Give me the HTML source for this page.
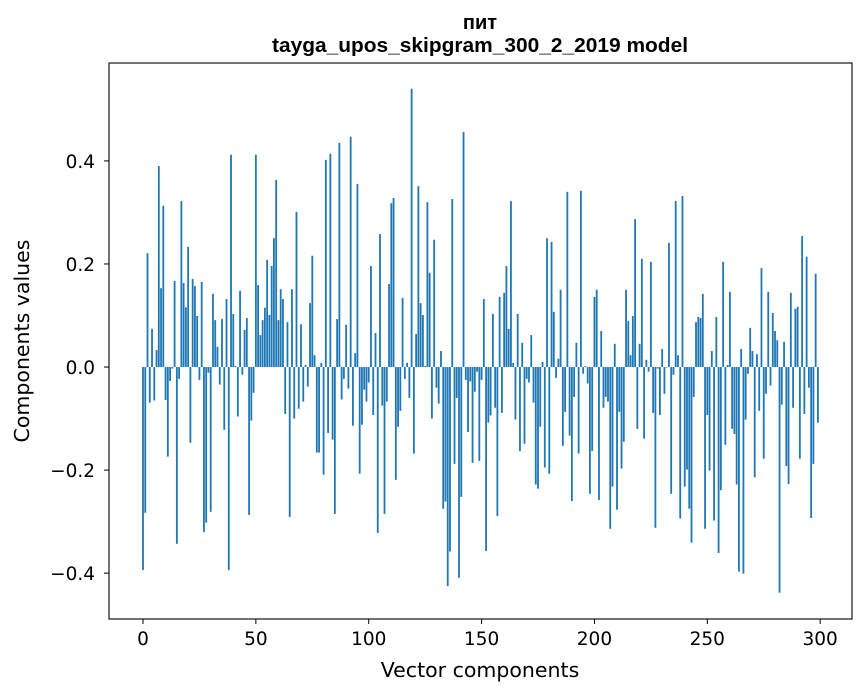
<!DOCTYPE html>
<html><head><meta charset="utf-8"><style>
body{margin:0;background:#fff;}
svg{display:block;font-family:"DejaVu Sans","Liberation Sans",sans-serif;}
</style></head><body>
<svg id="chart" width="867" height="696" viewBox="0 0 867 696" xmlns="http://www.w3.org/2000/svg">
<rect x="0" y="0" width="867" height="696" fill="#fff"/>
<text x="480" y="29" text-anchor="middle" font-size="20" font-weight="bold" font-family="'Liberation Sans',sans-serif">пит</text>
<text x="480" y="52" text-anchor="middle" font-size="20" font-weight="bold" font-family="'Liberation Sans',sans-serif" textLength="416" lengthAdjust="spacingAndGlyphs">tayga_upos_skipgram_300_2_2019 model</text>
<g id="bars"></g>
<g id="axes"></g>
<text x="480" y="677" text-anchor="middle" font-size="20.5">Vector components</text>
<text transform="translate(29,341) rotate(-90)" text-anchor="middle" font-size="20.5">Components values</text>
</svg>
<script>
const values = [
-0.394,-0.283,0.221,-0.069,0.074,-0.065,0.033,0.39,0.153,0.313,
-0.064,-0.174,-0.027,-0.003,0.167,-0.343,-0.023,0.322,0.163,0.116,
0.233,-0.147,0.171,0.157,0.099,-0.025,0.165,-0.32,-0.302,-0.011,
-0.281,0.142,0.091,0.039,-0.034,0.093,-0.122,0.132,-0.394,0.412,
0.103,0.002,-0.096,0.148,-0.015,0.072,0.095,-0.287,-0.104,-0.05,
0.412,0.159,0.062,0.091,0.115,0.208,0.101,0.196,0.25,0.363,
0.091,0.151,0.132,-0.091,0.087,-0.291,0.151,-0.1,0.301,-0.081,
0.083,-0.067,0.004,-0.038,0.124,0.216,0.023,-0.166,-0.166,0.008,
-0.209,0.402,-0.128,0.414,-0.141,-0.285,0.093,0.435,-0.063,-0.023,
0.082,-0.042,0.447,-0.114,0.027,0.355,-0.207,-0.112,-0.044,-0.067,
-0.03,0.196,-0.093,0.066,-0.322,0.258,-0.075,-0.285,-0.067,0.161,
0.318,0.328,-0.219,-0.116,-0.085,0.134,-0.023,0.008,-0.06,0.54,
-0.168,0.064,0.351,0.124,0.101,0.002,0.32,0.183,-0.1,0.247,
-0.04,-0.071,0.031,-0.275,-0.261,-0.425,-0.358,0.326,-0.188,-0.06,
-0.409,-0.252,0.456,-0.025,-0.126,-0.028,-0.186,-0.048,-0.009,-0.182,
-0.025,0.132,-0.357,-0.108,-0.094,0.103,-0.079,-0.289,0.136,-0.089,
0.144,0.196,0.074,0.322,0.008,-0.102,0.103,-0.163,0.047,-0.149,
-0.023,-0.03,0.062,-0.069,-0.228,-0.236,-0.116,0.01,-0.195,0.25,
-0.207,0.243,0.107,-0.021,0.016,0.15,-0.153,-0.087,0.34,-0.133,
-0.26,-0.058,0.047,-0.168,0.342,-0.013,0.002,-0.032,-0.246,-0.163,
0.136,0.15,-0.258,0.07,-0.079,-0.058,-0.067,-0.314,-0.232,0.045,
-0.277,-0.087,-0.197,-0.145,0.15,0.089,0.023,0.099,0.287,-0.12,
0.045,0.21,-0.139,0.014,-0.009,0.204,-0.089,-0.312,-0.003,-0.093,
0.035,-0.052,-0.001,0.241,-0.246,-0.015,0.322,0.023,-0.294,0.332,
-0.232,-0.199,-0.275,-0.341,-0.058,0.087,0.097,0.095,0.142,-0.314,
-0.093,-0.201,0.031,-0.298,0.097,-0.361,-0.239,0.204,-0.151,0.004,
0.146,-0.12,-0.13,-0.228,-0.397,0.035,-0.401,-0.102,-0.013,0.076,
0.031,-0.214,0.025,-0.085,0.192,-0.178,-0.052,0.146,-0.036,0.105,
0.07,0.052,-0.438,-0.073,0.049,-0.192,-0.227,0.144,-0.079,0.113,
0.117,-0.178,0.254,-0.091,0.214,-0.04,-0.293,-0.188,0.181,-0.108
];
const xTicks = [0,50,100,150,200,250,300];
const yTicks = [-0.4,-0.2,0.0,0.2,0.4];
const yTickLabels = ["\u22120.4","\u22120.2","0.0","0.2","0.4"];

const L=109,R=852,T=63,B=619;
const xMin=-15.06,xMax=314.1,yMin=-0.489,yMax=0.590;
function xs(v){return L+(v-xMin)/(xMax-xMin)*(R-L);}
function ys(v){return B-(v-yMin)/(yMax-yMin)*(B-T);}
const NS="http://www.w3.org/2000/svg";
const bars=document.getElementById('bars');
const axes=document.getElementById('axes');
const bw=0.8;
values.forEach((v,i)=>{
  const r=document.createElementNS(NS,'rect');
  const x0=xs(i-bw/2),x1=xs(i+bw/2);
  const y0=ys(Math.max(v,0)),y1=ys(Math.min(v,0));
  r.setAttribute('x',x0);r.setAttribute('width',x1-x0);
  r.setAttribute('y',y0);r.setAttribute('height',Math.max(y1-y0,0.01));
  r.setAttribute('fill','#1f77b4');
  
  
  bars.appendChild(r);
});
const frame=document.createElementNS(NS,'rect');
frame.setAttribute('x',L);frame.setAttribute('y',T);
frame.setAttribute('width',R-L);frame.setAttribute('height',B-T);
frame.setAttribute('fill','none');frame.setAttribute('stroke','#000');frame.setAttribute('stroke-width','1.1');


axes.appendChild(frame);
xTicks.forEach(t=>{
  const x=xs(t);
  const l=document.createElementNS(NS,'line');
  l.setAttribute('x1',x);l.setAttribute('x2',x);l.setAttribute('y1',B);l.setAttribute('y2',B+5);
  l.setAttribute('stroke','#000');
  
  
  axes.appendChild(l);
  const tx=document.createElementNS(NS,'text');
  tx.setAttribute('x',x);tx.setAttribute('y',B+26);tx.setAttribute('text-anchor','middle');tx.setAttribute('font-size','18.5');
  tx.textContent=t;
  
  
  axes.appendChild(tx);
});
yTicks.forEach((t,i)=>{
  const y=ys(t);
  const l=document.createElementNS(NS,'line');
  l.setAttribute('x1',L-5);l.setAttribute('x2',L);l.setAttribute('y1',y);l.setAttribute('y2',y);
  l.setAttribute('stroke','#000');
  
  
  axes.appendChild(l);
  const tx=document.createElementNS(NS,'text');
  tx.setAttribute('x',L-14);tx.setAttribute('y',y+7);tx.setAttribute('text-anchor','end');tx.setAttribute('font-size','18.5');
  tx.textContent=yTickLabels[i];
  
  
  axes.appendChild(tx);
});
</script>
</body></html>
